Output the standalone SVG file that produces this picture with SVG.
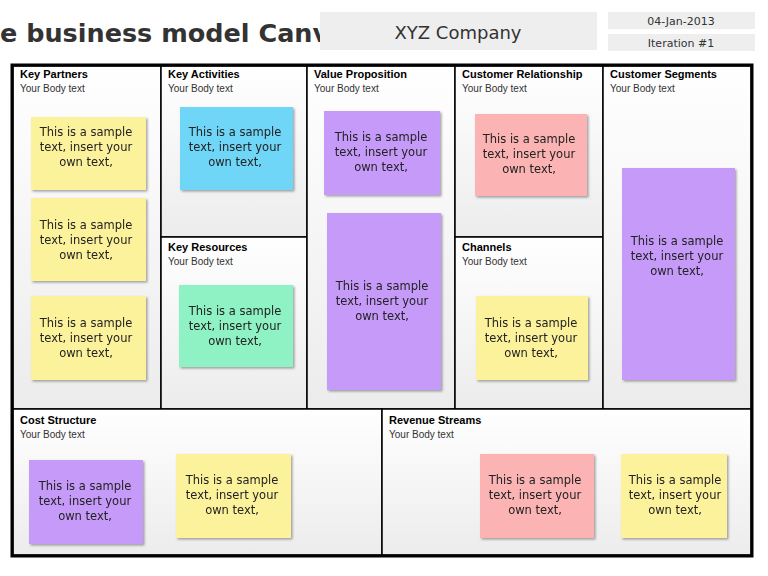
<svg xmlns="http://www.w3.org/2000/svg" width="768" height="576" viewBox="0 0 768 576">
<defs>
<style>
.h{font-family:"Liberation Sans",Arial,sans-serif;font-weight:bold;font-size:11px;fill:#000}
.b{font-family:"Liberation Sans",Arial,sans-serif;font-size:10px;fill:#333}
.s{font-family:"DejaVu Sans",sans-serif;font-size:11.5px;fill:#222;text-anchor:middle}
.cell{fill:url(#g);stroke:#000;stroke-width:1.5}
</style>
<linearGradient id="g" x1="0" y1="0" x2="0" y2="1"><stop offset="0" stop-color="#fff"/><stop offset="1" stop-color="#ececec"/></linearGradient>
<filter id="sh"><feDropShadow dx="1.5" dy="1.5" stdDeviation="1" flood-color="#666" flood-opacity="0.6"/></filter>
</defs>
<rect width="768" height="576" fill="#fff"/>
<text x="0" y="42" font-family="'DejaVu Sans',sans-serif" font-weight="bold" font-size="25.5" fill="#333">e business model Canvas</text>
<rect x="320" y="12" width="277" height="38" fill="#eee"/>
<text x="458" y="39" font-family="'DejaVu Sans',sans-serif" font-size="18" fill="#333" text-anchor="middle">XYZ Company</text>
<rect x="608" y="12" width="147" height="17" fill="#eee"/>
<rect x="608" y="34" width="147" height="17" fill="#eee"/>
<text x="681" y="25" font-family="'DejaVu Sans',sans-serif" font-size="11" fill="#333" text-anchor="middle">04-Jan-2013</text>
<text x="681" y="47" font-family="'DejaVu Sans',sans-serif" font-size="11" fill="#333" text-anchor="middle">Iteration #1</text>
<g id="cells">
<rect class="cell" x="13" y="66" width="148" height="343"/>
<rect class="cell" x="161" y="66" width="146" height="171"/>
<rect class="cell" x="161" y="237" width="146" height="172"/>
<rect class="cell" x="307" y="66" width="148" height="343"/>
<rect class="cell" x="455" y="66" width="148" height="171"/>
<rect class="cell" x="455" y="237" width="148" height="172"/>
<rect class="cell" x="603" y="66" width="148" height="343"/>
<rect class="cell" x="13" y="409" width="369" height="146"/>
<rect class="cell" x="382" y="409" width="369" height="146"/>
<rect x="12" y="65" width="740" height="491" fill="none" stroke="#000" stroke-width="3"/>
</g>
<g id="labels">
<text class="h" x="20" y="78">Key Partners</text><text class="b" x="20" y="92">Your Body text</text>
<text class="h" x="168" y="78">Key Activities</text><text class="b" x="168" y="92">Your Body text</text>
<text class="h" x="168" y="251">Key Resources</text><text class="b" x="168" y="265">Your Body text</text>
<text class="h" x="314" y="78">Value Proposition</text><text class="b" x="314" y="92">Your Body text</text>
<text class="h" x="462" y="78">Customer Relationship</text><text class="b" x="462" y="92">Your Body text</text>
<text class="h" x="462" y="251">Channels</text><text class="b" x="462" y="265">Your Body text</text>
<text class="h" x="610" y="78">Customer Segments</text><text class="b" x="610" y="92">Your Body text</text>
<text class="h" x="20" y="424">Cost Structure</text><text class="b" x="20" y="438">Your Body text</text>
<text class="h" x="389" y="424">Revenue Streams</text><text class="b" x="389" y="438">Your Body text</text>
</g>
<g id="notes" filter="url(#sh)">
<g id="kp1"><rect x="31" y="117" width="115" height="73" fill="#fdf29c"/><text class="s"><tspan x="86" y="136">This is a sample</tspan><tspan x="86" y="151">text, insert your</tspan><tspan x="86" y="166">own text,</tspan></text></g>
<g id="kp2"><rect x="31" y="198" width="115" height="83" fill="#fdf29c"/><text class="s"><tspan x="86" y="229">This is a sample</tspan><tspan x="86" y="244">text, insert your</tspan><tspan x="86" y="259">own text,</tspan></text></g>
<g id="kp3"><rect x="31" y="296" width="115" height="84" fill="#fdf29c"/><text class="s"><tspan x="86" y="327">This is a sample</tspan><tspan x="86" y="342">text, insert your</tspan><tspan x="86" y="357">own text,</tspan></text></g>
<g id="ka1"><rect x="180" y="107" width="113" height="83" fill="#6fd6f7"/><text class="s"><tspan x="235" y="136">This is a sample</tspan><tspan x="235" y="151">text, insert your</tspan><tspan x="235" y="166">own text,</tspan></text></g>
<g id="kr1"><rect x="179" y="285" width="114" height="82" fill="#8ef2c4"/><text class="s"><tspan x="235" y="315">This is a sample</tspan><tspan x="235" y="330">text, insert your</tspan><tspan x="235" y="345">own text,</tspan></text></g>
<g id="vp1"><rect x="324" y="111" width="116" height="84" fill="#c69af8"/><text class="s"><tspan x="381" y="141">This is a sample</tspan><tspan x="381" y="156">text, insert your</tspan><tspan x="381" y="171">own text,</tspan></text></g>
<g id="vp2"><rect x="327" y="213" width="114" height="177" fill="#c69af8"/><text class="s"><tspan x="382" y="290">This is a sample</tspan><tspan x="382" y="305">text, insert your</tspan><tspan x="382" y="320">own text,</tspan></text></g>
<g id="cr1"><rect x="475" y="114" width="112" height="82" fill="#fbb3b3"/><text class="s"><tspan x="529" y="143">This is a sample</tspan><tspan x="529" y="158">text, insert your</tspan><tspan x="529" y="173">own text,</tspan></text></g>
<g id="ch1"><rect x="476" y="296" width="112" height="84" fill="#fdf29c"/><text class="s"><tspan x="531" y="327">This is a sample</tspan><tspan x="531" y="342">text, insert your</tspan><tspan x="531" y="357">own text,</tspan></text></g>
<g id="cs1"><rect x="622" y="168" width="113" height="212" fill="#c69af8"/><text class="s"><tspan x="677" y="245">This is a sample</tspan><tspan x="677" y="260">text, insert your</tspan><tspan x="677" y="275">own text,</tspan></text></g>
<g id="co1"><rect x="29" y="460" width="114" height="84" fill="#c69af8"/><text class="s"><tspan x="85" y="490">This is a sample</tspan><tspan x="85" y="505">text, insert your</tspan><tspan x="85" y="520">own text,</tspan></text></g>
<g id="co2"><rect x="176" y="454" width="115" height="84" fill="#fdf29c"/><text class="s"><tspan x="232" y="484">This is a sample</tspan><tspan x="232" y="499">text, insert your</tspan><tspan x="232" y="514">own text,</tspan></text></g>
<g id="rs1"><rect x="480" y="454" width="114" height="84" fill="#fbb3b3"/><text class="s"><tspan x="535" y="484">This is a sample</tspan><tspan x="535" y="499">text, insert your</tspan><tspan x="535" y="514">own text,</tspan></text></g>
<g id="rs2"><rect x="621" y="454" width="106" height="84" fill="#fdf29c"/><text class="s"><tspan x="675" y="484">This is a sample</tspan><tspan x="675" y="499">text, insert your</tspan><tspan x="675" y="514">own text,</tspan></text></g>
</g>
</svg>
